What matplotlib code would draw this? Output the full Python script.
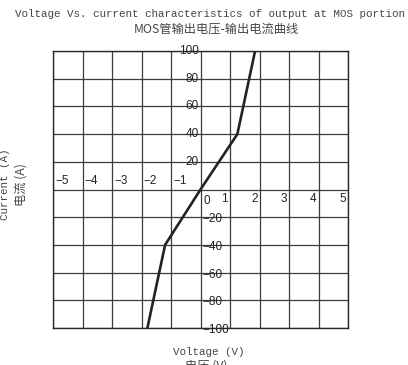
import matplotlib
matplotlib.use("Agg")
import matplotlib.pyplot as plt
from matplotlib.transforms import offset_copy

# Data
voltage = [-1.8, -1.2, 0.0, 1.25, 1.85]
current = [-100, -40, 0, 40, 100]
x_ticks = [-5, -4, -3, -2, -1, 0, 1, 2, 3, 4, 5]
y_ticks = [-100, -80, -60, -40, -20, 0, 20, 40, 60, 80, 100]

title_en = "Voltage Vs. current characteristics of output at MOS portion"
title_cn = "MOS管输出电压-输出电流曲线"
xlabel_en = "Voltage (V)"
xlabel_cn = "电压 (V)"
ylabel_en = "Current (A)"
ylabel_cn = "电流 (A)"

fig = plt.figure(figsize=(4.08, 3.65), dpi=100)
ax = fig.add_axes([53/408, 1-328/365, 295/408, 277/365])
ax.set_xlim(-5, 5)
ax.set_ylim(-100, 100)
ax.set_xticks(x_ticks)
ax.set_yticks(y_ticks)
ax.tick_params(length=0, labelleft=False, labelbottom=False)
ax.grid(True, color="#3a3a3a", linewidth=0.9)
for s in ax.spines.values():
    s.set_color("#2a2a2a")
    s.set_linewidth(1.0)

ax.plot(voltage, current, color="#20222e", linewidth=1.9, zorder=3)

tick_font = dict(family="Liberation Sans", fontsize=8.5, color="#222222")
for v in x_ticks:
    if v < 0:
        t = offset_copy(ax.transData, fig=fig, x=2, y=2, units="dots")
        ax.text(v, 0, f"\u2212{abs(v)}", transform=t, ha="left", va="bottom", **tick_font)
    elif v > 0:
        t = offset_copy(ax.transData, fig=fig, x=-2, y=-3, units="dots")
        ax.text(v, 0, f"{v}", transform=t, ha="right", va="top", **tick_font)
    else:
        t = offset_copy(ax.transData, fig=fig, x=3, y=-6, units="dots")
        ax.text(v, 0, "0", transform=t, ha="left", va="top", **tick_font)
for v in y_ticks:
    if v > 0:
        t = offset_copy(ax.transData, fig=fig, x=-2, y=0, units="dots")
        ax.text(0, v, f"{v}", transform=t, ha="right", va="center", **tick_font)
    elif v < 0:
        t = offset_copy(ax.transData, fig=fig, x=2, y=-2, units="dots")
        ax.text(0, v, f"\u2212{abs(v)}", transform=t, ha="left", va="center", **tick_font)

mono = ["Liberation Mono", "Noto Sans CJK SC"]
cjk = ["Noto Sans CJK SC", "DejaVu Sans"]
tcol = "#444444"
fig.text(210/408, 1-14/365, title_en, ha="center", va="center", family=mono, fontsize=7.8, color=tcol)
fig.text(216/408, 1-29/365, title_cn, ha="center", va="center", family=cjk, fontsize=8.8, color=tcol)
fig.text(209/408, 1-352/365, xlabel_en, ha="center", va="center", family=mono, fontsize=7.8, color=tcol)
fig.text(206/408, 1-366/365, xlabel_cn, ha="center", va="center", family=cjk, fontsize=8.8, color=tcol)
fig.text(5/408, 1-184/365, ylabel_en, ha="center", va="center", rotation=90, family=mono, fontsize=7.8, color=tcol)
fig.text(21/408, 1-185/365, ylabel_cn, ha="center", va="center", rotation=90, family=cjk, fontsize=8.8, color=tcol)

fig.savefig("out.png", dpi=100)
